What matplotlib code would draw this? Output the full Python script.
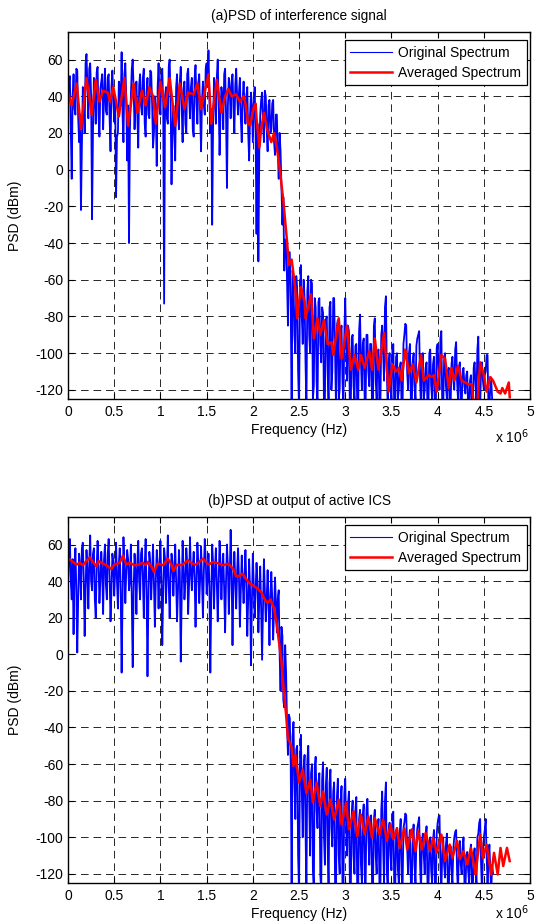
import matplotlib
matplotlib.use("Agg")
import matplotlib.pyplot as plt
import numpy as np

plt.rcParams['font.family'] = ['Liberation Sans', 'DejaVu Sans']
plt.rcParams['lines.scale_dashes'] = False
plt.rcParams['axes.unicode_minus'] = False
plt.rcParams['path.simplify'] = False

# ---- panel (a): PSD of interference signal ----
# original spectrum, bins every 0.01 MHz from 0 to 4.6 MHz (dBm), one row = 0.2 MHz
orig_a = [
    35, 48, 51, 22, -5, 40, 52, 33, 30, 55, 54, 28, 15, 30, -22, 12, 45, 38, 20, 58,
    63, 45, 28, 55, 58, 40, -27, 20, 50, 42, 25, 53, 56, 30, 18, 44, 48, 52, 22, 40,
    55, 32, 30, 50, 52, 28, 10, 45, 54, 38, 26, 40, -15, 18, 20, 48, 45, 35, 64, 30,
    15, 52, 58, 40, 5, 35, -40, 22, 40, 55, 60, 44, 22, 38, 48, 30, 12, 46, 52, 35,
    30, 50, 55, 25, 18, 42, 50, 30, 28, 54, 53, 36, 12, 20, 40, 32, 2, 45, 58, 40,
    30, 52, 55, 35, -73, 40, 45, 28, 25, 56, 60, 38, -8, 22, 35, 20, 5, 45, 52, 30,
    22, 48, 56, 35, 15, 44, 48, 25, 20, 52, 55, 40, 28, 45, 50, 22, 18, 50, 57, 36,
    25, 47, 52, 30, 10, 38, 48, 35, 30, 55, 58, 45, 65, 40, 20, 33, -30, 25, 50, 42,
    25, 50, 60, 38, 8, 30, 45, 40, 22, 52, 55, 30, -10, 35, 50, 44, 28, 48, 52, 34,
    20, 46, 55, 40, 30, 42, 50, 28, 15, 38, 48, 35, 25, 40, 45, 20, 5, 30, 42, 35,
    15, 35, 45, 20, -35, 25, -50, 10, 30, 38, 42, 25, 15, 43, 40, 22, 10, 35, 38, 20,
    22, 36, 38, 15, 8, 30, 30, 10, -5, 20, 10, -10, -30, -15, -55, -38, -40, -60, -85, -45,
    -45, -75, -130, -55, -60, -90, -100, -58, -65, -110, -130, -70, -52, -80, -95, -60, -70, -105, -130, -66,
    -58, -90, -100, -60, -62, -125, -118, -70, -75, -115, -130, -72, -70, -95, -105, -75, -78, -130, -125, -82,
    -80, -110, -130, -75, -72, -120, -110, -70, -70, -100, -130, -85, -82, -125, -120, -88, -85, -115, -130, -90,
    -70, -95, -115, -85, -88, -130, -130, -92, -90, -118, -125, -96, -95, -130, -130, -88, -79, -105, -120, -95,
    -92, -125, -130, -90, -90, -110, -118, -95, -95, -130, -130, -85, -81, -115, -125, -100, -98, -130, -130, -90,
    -85, -100, -115, -75, -69, -110, -130, -105, -100, -118, -125, -98, -95, -130, -130, -102, -100, -125, -120, -108,
    -105, -130, -130, -95, -90, -84, -85, -110, -120, -100, -95, -125, -130, -105, -100, -118, -125, -96, -92, -90,
    -88, -115, -130, -105, -100, -125, -120, -108, -105, -130, -130, -100, -98, -118, -125, -106, -102, -130, -130, -97,
    -95, -110, -120, -92, -88, -130, -130, -104, -100, -118, -125, -110, -108, -130, -130, -106, -102, -115, -120, -98,
    -94, -115, -125, -108, -105, -130, -130, -110, -108, -118, -122, -112, -110, -130, -130, -115, -112, -130, -130, -108,
    -105, -118, -125, -98, -91, -130, -130, -108, -105, -115, -120, -112, -110, -101, -101, -130, -130, -118, -115, -125,
    -130,
]
# averaged spectrum (frequency in MHz, PSD in dBm)
avg_a_freq = [
    0.00, 0.04, 0.094, 0.14, 0.20, 0.256, 0.30, 0.34, 0.38, 0.43,
    0.455, 0.49, 0.55, 0.61, 0.65, 0.71, 0.75, 0.80, 0.84, 0.88,
    0.92, 0.95, 1.00, 1.05, 1.10, 1.16, 1.21, 1.26, 1.30, 1.36,
    1.40, 1.44, 1.49, 1.52, 1.55, 1.61, 1.66, 1.70, 1.735, 1.77,
    1.82, 1.86, 1.90, 1.92, 1.95, 1.97, 2.01, 2.03, 2.04, 2.07,
    2.09, 2.12, 2.16, 2.20, 2.23, 2.26, 2.29, 2.33, 2.37, 2.39,
    2.42, 2.46, 2.48, 2.52, 2.56, 2.57, 2.63, 2.66, 2.70, 2.73,
    2.77, 2.81, 2.85, 2.87, 2.93, 2.96, 3.02, 3.06, 3.10, 3.14,
    3.17, 3.21, 3.26, 3.29, 3.32, 3.36, 3.42, 3.47, 3.51, 3.55,
    3.58, 3.61, 3.65, 3.69, 3.73, 3.77, 3.82, 3.85, 3.90, 3.94,
    3.96, 3.99, 4.04, 4.08, 4.12, 4.15, 4.18, 4.22, 4.26, 4.30,
    4.33, 4.37, 4.39, 4.43, 4.46, 4.50, 4.53, 4.57, 4.60, 4.65,
    4.68, 4.70, 4.73, 4.77, 4.78,
]
avg_a_psd = [
    42, 35, 47, 22, 50, 30, 49, 37, 43, 42,
    37, 45, 29, 50, 24, 47, 31, 43, 35, 45,
    40, 25, 48, 34, 50, 24, 47, 33, 42, 41,
    47, 33, 45, 52, 25, 49, 31, 40, 44, 40,
    41, 37, 40, 36, 25, 24, 34, 36, 28, 12,
    22, 31, 21, 15, 20, 12, 1, -17, -39, -52,
    -49, -65, -81, -64, -72, -81, -68, -92, -81, -90,
    -82, -95, -94, -101, -81, -103, -85, -109, -101, -109,
    -101, -108, -99, -109, -92, -109, -89, -121, -106, -110,
    -108, -115, -98, -111, -106, -116, -101, -115, -112, -113,
    -112, -121, -101, -103, -119, -108, -115, -107, -115, -116,
    -117, -117, -128, -128, -105, -112, -121, -113, -115, -121,
    -122, -119, -122, -116, -124,
]

# ---- panel (b): PSD at output of active ICS ----
orig_b = [
    38, 55, 63, 40, 30, 52, 11, 45, 58, 35, 1, 30, 55, 48, 30, 58, 61, 42, 10, 35,
    57, 45, 25, 50, 65, 40, 35, 55, 58, 30, 20, 48, 62, 50, 28, 40, 56, 45, 22, 52,
    60, 38, 30, 55, 63, 42, 18, 35, 55, 50, 32, 45, 61, 40, 25, 50, 58, 35, -10, 30,
    64, 48, 28, 45, 57, 52, 35, 40, 60, 30, -7, 35, 55, 45, 22, 50, 62, 40, 30, 55,
    58, 42, 20, 48, 63, 35, -12, 30, 56, 50, 30, 45, 60, 38, 15, 40, 57, 48, 25, 50,
    62, 40, 5, 35, 58, 52, 28, 45, 65, 38, 20, 42, 55, 50, 32, 45, 60, 40, 18, 35,
    57, 45, -4, 30, 62, 48, 30, 40, 58, 50, 22, 38, 64, 45, 35, 48, 56, 42, 15, 40,
    61, 50, 28, 42, 59, 40, 20, 45, 63, 52, 33, 40, 55, 38, -10, 30, 60, 50, 25, 45,
    58, 40, 18, 38, 62, 50, 30, 45, 55, 35, 12, 40, 60, 48, 22, 42, 68, 45, 5, 38,
    56, 40, 25, 45, 58, 42, 15, 35, 54, 40, 28, 42, 57, 38, 10, 30, 52, 35, -6, 28,
    55, 38, 20, 35, 50, 40, 12, 30, 48, 25, -3, 25, 52, 35, 18, 30, 46, 28, 5, 32,
    45, 30, 8, 25, 42, 28, 12, 30, 35, 0, -20, 15, 10, -25, -29, 5, -10, -38, -55, -33,
    -35, -60, -130, -45, -37, -70, -90, -52, -50, -110, -130, -60, -44, -75, -100, -62, -55, -95, -130, -58,
    -50, -80, -110, -65, -60, -118, -130, -62, -56, -85, -95, -70, -65, -120, -130, -68, -59, -100, -115, -72,
    -62, -105, -130, -70, -63, -95, -105, -75, -70, -125, -130, -78, -68, -110, -120, -80, -72, -125, -130, -76,
    -68, -95, -110, -82, -75, -125, -130, -88, -80, -110, -120, -85, -78, -130, -130, -90, -85, -115, -125, -88,
    -82, -120, -130, -85, -79, -100, -115, -92, -88, -125, -130, -90, -85, -110, -120, -95, -90, -125, -130, -85,
    -75, -105, -125, -80, -70, -118, -130, -96, -92, -110, -118, -92, -86, -125, -130, -100, -95, -118, -125, -98,
    -90, -120, -130, -95, -92, -87, -88, -105, -120, -102, -96, -125, -130, -100, -93, -115, -125, -102, -95, -92,
    -89, -115, -130, -102, -98, -110, -120, -100, -94, -125, -130, -104, -100, -118, -125, -102, -96, -125, -130, -98,
    -92, -89, -88, -115, -130, -108, -100, -115, -122, -104, -98, -125, -130, -110, -105, -118, -125, -106, -100, -97,
    -96, -118, -130, -108, -102, -115, -120, -106, -100, -125, -130, -112, -108, -118, -125, -110, -104, -125, -130, -110,
    -106, -118, -125, -100, -98, -92, -90, -115, -130, -108, -100, -96, -90, -110, -125, -112, -104, -118, -130, -115,
    -120,
]
avg_b_freq = [
    0.00, 0.04, 0.09, 0.126, 0.16, 0.20, 0.235, 0.27, 0.307, 0.33,
    0.38, 0.43, 0.47, 0.50, 0.56, 0.595, 0.63, 0.667, 0.72, 0.765,
    0.81, 0.84, 0.866, 0.90, 0.93, 0.97, 1.03, 1.08, 1.12, 1.14,
    1.18, 1.23, 1.30, 1.34, 1.385, 1.46, 1.52, 1.57, 1.63, 1.68,
    1.735, 1.79, 1.82, 1.86, 1.89, 1.93, 1.96, 2.00, 2.06, 2.09,
    2.13, 2.16, 2.19, 2.23, 2.26, 2.31, 2.33, 2.36, 2.38, 2.40,
    2.42, 2.44, 2.46, 2.50, 2.54, 2.58, 2.62, 2.65, 2.69, 2.73,
    2.76, 2.80, 2.84, 2.88, 2.93, 2.96, 3.01, 3.04, 3.09, 3.13,
    3.17, 3.21, 3.25, 3.29, 3.32, 3.37, 3.41, 3.45, 3.49, 3.52,
    3.56, 3.59, 3.64, 3.67, 3.72, 3.76, 3.79, 3.83, 3.87, 3.92,
    3.95, 3.99, 4.04, 4.08, 4.13, 4.16, 4.21, 4.24, 4.28, 4.32,
    4.36, 4.41, 4.46, 4.49, 4.53, 4.58, 4.61, 4.65, 4.68, 4.71,
    4.75, 4.78,
]
avg_b_psd = [
    52.5, 51, 49, 50, 48.7, 51, 53, 50.5, 48, 51,
    49.6, 48.2, 46.5, 49, 50, 54, 49, 50, 48.7, 49,
    50, 48.7, 50.5, 48.3, 45, 49.6, 48.7, 52.3, 49, 45.5,
    49, 48.7, 51.4, 49.6, 49, 52.3, 49, 50.5, 49.6, 48.7,
    49.5, 46.5, 42.5, 43, 44, 41, 39, 37.8, 35.5, 34,
    30, 28, 30, 25, 16, -4, -17, -33, -46, -48,
    -51, -61, -55, -70, -63, -76, -68.5, -81, -70, -83,
    -75, -87.6, -79.4, -90.3, -79.4, -93, -81, -95.7, -85.8, -99.4,
    -87.6, -98.5, -88.5, -100.3, -89.4, -98.5, -90.3, -102, -93, -101,
    -95, -105.8, -95, -106.7, -95.7, -107.6, -96.7, -106.7, -97.6, -107.6,
    -100.3, -108.5, -98.5, -113, -104, -111.2, -102, -112, -107.6, -114.8,
    -105.8, -120.3, -98.5, -111.2, -104, -120.3, -108.5, -120.3, -105.8, -115.7,
    -105.8, -113,
]

titles = ['(a)PSD of interference signal', '(b)PSD at output of active ICS']
xticks = [0, 0.5, 1, 1.5, 2, 2.5, 3, 3.5, 4, 4.5, 5]
xticklabels = ['0', '0.5', '1', '1.5', '2', '2.5', '3', '3.5', '4', '4.5', '5']
yticks = [-120, -100, -80, -60, -40, -20, 0, 20, 40, 60]


def draw_panel(ax, orig, avg_f, avg_p, title, exp_y):
    f_orig = np.linspace(0, 4.6, len(orig)) * 1e6
    ax.plot(f_orig, orig, color=(0, 0, 1), lw=1.3, label='Original Spectrum')
    ax.plot(np.array(avg_f) * 1e6, avg_p, color=(1, 0, 0), lw=1.8,
            label='Averaged Spectrum')
    ax.set_xlim(0, 5e6)
    ax.set_ylim(-125, 75)
    ax.set_xticks([t * 1e6 for t in xticks])
    ax.set_xticklabels(xticklabels)
    ax.set_yticks(yticks)
    ax.set_axisbelow(True)
    ax.grid(True, color='0.15', lw=0.7, linestyle=(0, (5.5, 3.5)))
    ax.tick_params(direction='in', top=True, right=True, length=4, width=0.8,
                   labelsize=10)
    ax.tick_params(axis='x', pad=4.5)
    ax.tick_params(axis='y', pad=3.5)
    for s in ax.spines.values():
        s.set_linewidth(1.0)
    ax.set_title(title, fontsize=9.8, pad=8.5)
    ax.set_xlabel('Frequency (Hz)', fontsize=10, labelpad=2.5)
    ax.set_ylabel('PSD (dBm)', fontsize=10)
    ax.yaxis.set_label_coords(-0.1, 0.5)
    ax.text(0.998, exp_y, r'x 10$^{6}$', transform=ax.transAxes,
            ha='right', va='center', fontsize=10)
    leg = ax.legend(loc='upper right', bbox_to_anchor=(0.993, 0.978),
                    borderaxespad=0, fontsize=10, handlelength=3.0,
                    handletextpad=0.45, labelspacing=0.45, borderpad=0.4,
                    fancybox=False, framealpha=1, edgecolor='k')
    leg.get_frame().set_linewidth(0.9)
    leg.get_lines()[0].set_linewidth(0.8)


fig = plt.figure(figsize=(5.36, 9.23), dpi=100)
ax1 = fig.add_axes([0.1269, 0.5677, 0.862, 0.3976])
ax2 = fig.add_axes([0.1269, 0.0433, 0.862, 0.3965])
draw_panel(ax1, orig_a, avg_a_freq, avg_a_psd, titles[0], -0.102)
draw_panel(ax2, orig_b, avg_b_freq, avg_b_psd, titles[1], -0.08)

fig.savefig('out.png', dpi=100)
